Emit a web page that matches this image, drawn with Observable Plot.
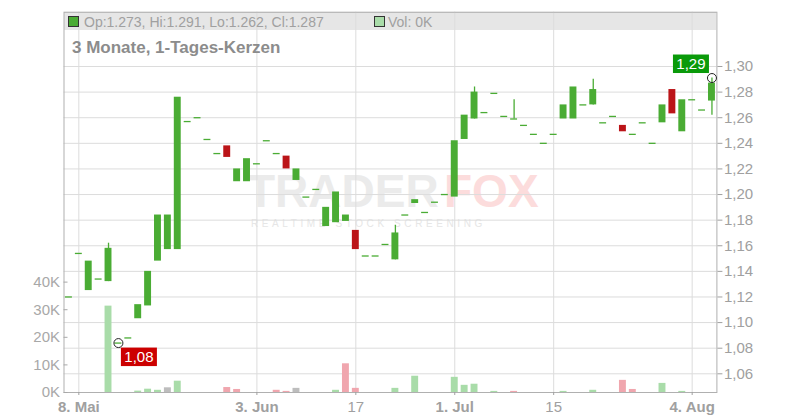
<!DOCTYPE html>
<html><head><meta charset="utf-8">
<script src="https://cdn.jsdelivr.net/npm/d3@7"></script>
<script src="https://cdn.jsdelivr.net/npm/@observablehq/plot@0.6"></script>
<style>
body{margin:0;background:#fff;font-family:"Liberation Sans",Arial,sans-serif}
#wrap{position:relative;width:800px;height:420px;overflow:hidden}
#band{position:absolute;left:63.5px;top:11.7px;width:652.9px;height:18.3px;background:#e6e6e6;border-top:1px solid #d2d2d2;box-sizing:border-box}
#chart{position:absolute;left:0;top:0}
.wm{position:absolute;white-space:nowrap;font-weight:bold;line-height:0.8}
.sq{position:absolute;width:11px;height:11px;box-sizing:border-box;border:1px solid #333}
.ht{position:absolute;font-size:14px;line-height:18px;color:#a0a0a0;white-space:nowrap}
#title{position:absolute;left:72px;top:38.4px;font-size:17px;line-height:20px;font-weight:bold;color:#8c8c8c;white-space:nowrap}
</style></head>
<body>
<div id="wrap">
  <div id="band"></div>
  <div class="wm" style="left:247px;top:173px;font-size:46px;color:#ebebeb">TRADER</div>
  <div class="wm" style="left:444px;top:173px;font-size:46px;color:#fcdcdc">FOX</div>
  <div class="wm" style="left:251px;top:218.5px;font-size:10px;line-height:1;letter-spacing:3.6px;font-weight:normal;color:#e6e6e6">REALTIME STOCK SCREENING</div>
  <div id="chart"></div>
  <div class="sq" style="left:68.3px;top:15.8px;background:#4aac34"></div>
  <div class="ht" id="ohlc" style="left:84px;top:12.6px"></div>
  <div class="sq" style="left:373.5px;top:15.8px;background:#a9dca9"></div>
  <div class="ht" id="vol" style="left:388px;top:12.6px"></div>
  <div id="title">3 Monate, 1-Tages-Kerzen</div>
</div>
<script>
// daily candles, index 0 = 7 May ... index 65 = 6 Aug
const open  = [1.120,1.154,1.125,1.134,1.132,1.084,1.088,1.103,1.113,1.148,
               1.157,1.157,1.257,1.260,1.243,1.232,1.238,1.210,1.210,1.224,
               1.242,1.232,1.230,1.211,1.198,1.204,1.175,1.178,1.179,1.172,
               1.152,1.152,1.161,1.149,1.184,1.193,1.186,1.194,1.200,1.198,
               1.243,1.259,1.264,1.279,1.261,1.259,1.254,1.247,1.240,1.247,
               1.259,1.259,1.270,1.270,1.256,1.261,1.254,1.247,1.256,1.240,
               1.256,1.282,1.249,1.274,1.266,1.273];
const high  = [1.120,1.154,1.148,1.134,1.162,1.084,1.088,1.114,1.140,1.184,
               1.184,1.276,1.257,1.260,1.243,1.232,1.238,1.220,1.228,1.224,
               1.242,1.232,1.230,1.220,1.198,1.204,1.190,1.202,1.184,1.172,
               1.152,1.152,1.161,1.176,1.184,1.196,1.186,1.194,1.200,1.242,
               1.262,1.284,1.264,1.279,1.261,1.274,1.254,1.247,1.240,1.247,
               1.270,1.284,1.270,1.290,1.256,1.261,1.254,1.247,1.256,1.240,
               1.270,1.282,1.274,1.274,1.266,1.291];
const low   = [1.120,1.154,1.125,1.134,1.132,1.084,1.088,1.103,1.113,1.148,
               1.157,1.157,1.257,1.260,1.243,1.232,1.229,1.210,1.210,1.224,
               1.242,1.232,1.220,1.211,1.198,1.204,1.175,1.178,1.179,1.157,
               1.152,1.152,1.161,1.149,1.184,1.193,1.186,1.194,1.200,1.198,
               1.243,1.259,1.264,1.279,1.261,1.259,1.254,1.247,1.240,1.247,
               1.259,1.259,1.270,1.270,1.256,1.261,1.249,1.247,1.256,1.240,
               1.256,1.263,1.249,1.274,1.266,1.262];
const close = [1.120,1.154,1.148,1.134,1.158,1.084,1.088,1.114,1.140,1.184,
               1.184,1.276,1.257,1.260,1.243,1.232,1.229,1.220,1.228,1.224,
               1.242,1.232,1.220,1.220,1.198,1.204,1.190,1.202,1.184,1.157,
               1.152,1.152,1.161,1.170,1.184,1.196,1.186,1.194,1.200,1.242,
               1.262,1.280,1.264,1.279,1.261,1.259,1.254,1.247,1.240,1.247,
               1.270,1.284,1.270,1.282,1.256,1.261,1.249,1.247,1.256,1.240,
               1.270,1.263,1.274,1.274,1.266,1.287];
const volumeK = [0,0,0,0,31.3,0,0,0.5,1.2,0.8,
                 1.7,4.1,0,0,0,0,1.8,1.1,0,0,
                 0,0.8,0.4,1.5,0,0,0,0.8,10.4,1.5,
                 0,0,0,1.5,0,5.9,0,0,0,5.5,
                 2.6,3.0,0,0.4,0,0.4,0,0,0,0,
                 0.4,0,0,0.8,0,0,4.4,1.1,0,0,
                 3.3,0,0.4,0,0,0];
const xTickIdx    = [1, 19, 29, 39, 49, 63];
const xTickLabels = ["8. Mai", "3. Jun", "17", "1. Jul", "15", "4. Aug"];
const xTickBold   = ["8. Mai", "3. Jun", "1. Jul", "4. Aug"];
const priceTicks  = [1.06,1.08,1.10,1.12,1.14,1.16,1.18,1.20,1.22,1.24,1.26,1.28,1.30];
const volTicksK   = [0, 10, 20, 30, 40];

const GREEN = "#4aac34", RED = "#bb1418";
const VGREEN = "#a9dca9", VRED = "#f0a6ae", VGRAY = "#bdbdbd";
const yMin = 1.0454, yMax = 1.3424;
const perK = 0.002155; // price units per 1K volume on the shared vertical scale
const v2y = v => yMin + v * perK;

const n = open.length;
const rows = d3.range(n).map(i => {
  const d = i === 0 ? 0 : Math.round((close[i] - close[i-1]) * 1000);
  return {i, o: open[i], h: high[i], l: low[i], c: close[i], v: volumeK[i], dir: d};
});
const hiI = d3.maxIndex(high), loI = d3.minIndex(low);

document.getElementById("ohlc").textContent =
  `Op:${open[n-1].toFixed(3)}, Hi:${high[n-1].toFixed(3)}, Lo:${low[n-1].toFixed(3)}, Cl:${close[n-1].toFixed(3)}`;
document.getElementById("vol").textContent = `Vol: ${Math.round(volumeK[n-1])}K`;

const labelMark = (i, val, side, col) => (index, scales) => {
  const bwRaw = scales.x.bandwidth;
  const bw = typeof bwRaw === "function" ? bwRaw() : (bwRaw || 0);
  const cx = scales.x(i) + bw / 2, cy = scales.y(val);
  const w = 36, h = 18.5;
  const bx = side === "hi" ? cx - 2.5 - w : cx + 3;
  const by = side === "hi" ? cy - 4.5 - h : cy + 5;
  const g = d3.create("svg:g");
  g.append("rect").attr("x", bx).attr("y", by).attr("width", w).attr("height", h).attr("fill", col);
  g.append("text").attr("x", bx + w / 2).attr("y", by + h / 2).attr("dy", "0.36em")
    .attr("text-anchor", "middle").attr("fill", "#fff").attr("font-size", 15)
    .text(val.toFixed(2).replace(".", ","));
  return g.node();
};

const axisColor = "#a0a0a0";
const plot = Plot.plot({
  width: 800, height: 420,
  marginLeft: 63.5, marginRight: 83.6, marginTop: 11.7, marginBottom: 28,
  style: {background: "transparent", fontFamily: "'Liberation Sans', Arial, sans-serif", overflow: "visible"},
  x: {type: "band", domain: d3.range(n), paddingInner: 0.3, paddingOuter: 0.15, round: false, label: null},
  y: {domain: [yMin, yMax], label: null},
  marks: [
    Plot.gridY(priceTicks, {stroke: "#dcdcdc", strokeOpacity: 1}),
    Plot.gridX(xTickIdx, {stroke: "#dcdcdc", strokeOpacity: 1}),
    Plot.barY(rows.filter(r => r.v > 0), {x: "i", y1: () => yMin, y2: r => v2y(r.v),
      fill: r => r.dir > 0 ? VGREEN : r.dir < 0 ? VRED : VGRAY}),
    Plot.ruleX(rows.filter(r => r.h > Math.max(r.o, r.c) || r.l < Math.min(r.o, r.c)),
      {x: "i", y1: "l", y2: "h", stroke: r => r.c >= r.o ? GREEN : RED, strokeWidth: 1.3}),
    Plot.barY(rows.filter(r => r.c > r.o), {x: "i", y1: "o", y2: "c", fill: GREEN}),
    Plot.barY(rows.filter(r => r.c < r.o), {x: "i", y1: "o", y2: "c", fill: RED}),
    Plot.tickY(rows.filter(r => r.c === r.o), {x: "i", y: "c", stroke: GREEN, strokeWidth: 1.3}),
    Plot.frame({stroke: "#b0b0b0"}),
    Plot.axisY(priceTicks, {anchor: "right", label: null, tickSize: 5, tickPadding: 2, fontSize: 15,
      color: axisColor, tickFormat: d => d.toFixed(2).replace(".", ",")}),
    Plot.axisY(volTicksK.map(v2y), {anchor: "left", label: null, tickSize: -4, tickPadding: 8, fontSize: 15,
      color: "#a8a8a8", tickFormat: d => Math.round((d - yMin) / perK) + "K"}),
    Plot.axisX(xTickIdx, {anchor: "bottom", label: null, tickSize: 3, tickPadding: 6, fontSize: 15,
      color: axisColor, tickFormat: i => xTickLabels[xTickIdx.indexOf(i)]}),
    Plot.dot([hiI], {x: i => i, y: i => high[i], r: 4.5, stroke: "#222", fill: "none", strokeWidth: 1}),
    Plot.dot([loI], {x: i => i, y: i => low[i], r: 4.5, stroke: "#222", fill: "none", strokeWidth: 1}),
    labelMark(hiI, high[hiI], "hi", "#0a9a0a"),
    labelMark(loI, low[loI], "lo", "#cc0000")
  ]
});
document.getElementById("chart").appendChild(plot);
plot.querySelectorAll("text").forEach(t => {
  if (xTickBold.includes(t.textContent)) t.setAttribute("font-weight", "bold");
});
</script>
</body></html>
